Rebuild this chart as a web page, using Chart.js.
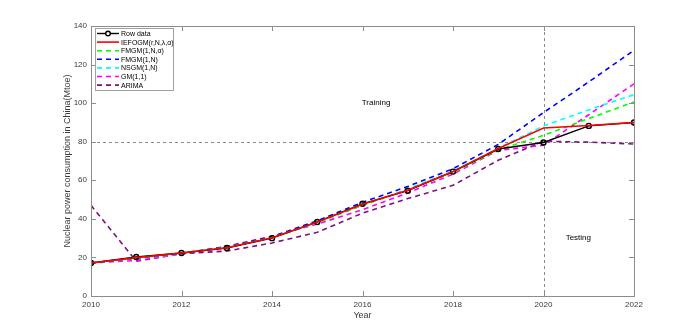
<!DOCTYPE html>
<html>
<head>
<meta charset="utf-8">
<script src="https://cdn.jsdelivr.net/npm/chart.js@4"></script>
<style>
    body { margin: 0; background: #fff; }
    #wrap { width: 700px; height: 332px; }
</style>
</head>
<body>
<div id="wrap"><canvas id="forecastChart" width="700" height="332"></canvas></div>
<script>
// Data
const years = [2010, 2011, 2012, 2013, 2014, 2015, 2016, 2017, 2018, 2019, 2020, 2021, 2022];
const rowData = [17.1, 20.2, 22.3, 24.9, 30.0, 38.4, 47.8, 54.6, 64.5, 76.2, 79.6, 88.2, 90.0];
const iefogm  = [17.1, 19.9, 22.3, 25.0, 30.2, 38.4, 47.6, 54.8, 64.5, 76.5, 87.1, 88.4, 90.0];
const fmgmA   = [17.1, 19.8, 22.3, 25.2, 30.3, 38.0, 47.0, 55.0, 64.0, 75.8, 83.3, 92.0, 100.6];
const fmgm    = [17.1, 19.6, 22.2, 25.5, 30.8, 39.0, 48.6, 56.8, 66.0, 78.6, 95.1, 111.0, 127.4];
const nsgm    = [17.1, 19.4, 22.0, 25.3, 30.5, 38.2, 47.0, 55.5, 64.8, 76.6, 88.2, 96.5, 104.4];
const gm11    = [17.1, 18.4, 21.8, 25.8, 31.0, 37.3, 44.8, 53.4, 63.2, 75.5, 78.2, 94.0, 110.0];
const arima   = [47.0, 18.0, 22.0, 23.3, 27.5, 33.0, 43.0, 50.5, 57.4, 70.4, 80.2, 79.8, 78.8];

const xTicks = [2010, 2012, 2014, 2016, 2018, 2020, 2022];
const yTicks = [0, 20, 40, 60, 80, 100, 120, 140];
const splitYear = 2020;
const refLevel = 80;

const FONT = 'Liberation Sans, Arial, sans-serif';
const AXIS_COLOR = '#8c8c8c';
const TEXT_COLOR = '#3a3a3a';

function toPoints(values) {
    return values.map((v, i) => ({ x: years[i], y: v }));
}

function dashed(label, values, color) {
    return {
        label: label,
        data: toPoints(values),
        borderColor: color,
        borderWidth: 1.6,
        borderDash: [5, 4],
        pointRadius: 0,
        tension: 0,
        order: 3
    };
}

// Frame, inward ticks, reference lines, annotations and legend
const decorations = {
    id: 'decorations',
    beforeDatasetsDraw(chart) {
        const { ctx, chartArea: a, scales: { x, y } } = chart;
        ctx.save();
        ctx.strokeStyle = '#8a8a8a';
        ctx.lineWidth = 1;
        ctx.setLineDash([3, 3]);
        const yr = Math.round(y.getPixelForValue(refLevel)) + 0.5;
        ctx.beginPath();
        ctx.moveTo(a.left, yr);
        ctx.lineTo(a.right, yr);
        ctx.stroke();
        const xs = Math.round(x.getPixelForValue(splitYear)) + 0.5;
        ctx.beginPath();
        ctx.moveTo(xs, a.top);
        ctx.lineTo(xs, a.bottom);
        ctx.stroke();
        ctx.restore();
    },
    afterDatasetsDraw(chart) {
        const { ctx, chartArea: a, scales: { x, y } } = chart;
        ctx.save();
        // frame
        ctx.strokeStyle = AXIS_COLOR;
        ctx.lineWidth = 1;
        ctx.strokeRect(Math.round(a.left) + 0.5, Math.round(a.top) + 0.5,
            Math.round(a.right - a.left), Math.round(a.bottom - a.top));
        // inward ticks on all four sides
        const tl = 5;
        ctx.beginPath();
        xTicks.forEach(t => {
            const px = Math.round(x.getPixelForValue(t)) + 0.5;
            ctx.moveTo(px, a.bottom); ctx.lineTo(px, a.bottom - tl);
            ctx.moveTo(px, a.top); ctx.lineTo(px, a.top + tl);
        });
        yTicks.forEach(t => {
            const py = Math.round(y.getPixelForValue(t)) + 0.5;
            ctx.moveTo(a.left, py); ctx.lineTo(a.left + tl, py);
            ctx.moveTo(a.right, py); ctx.lineTo(a.right - tl, py);
        });
        ctx.stroke();

        // annotations
        ctx.fillStyle = '#000';
        ctx.font = '8px ' + FONT;
        ctx.textAlign = 'center';
        ctx.textBaseline = 'middle';
        ctx.fillText('Training', x.getPixelForValue(2016.3), y.getPixelForValue(100));
        ctx.fillText('Testing', x.getPixelForValue(2020.77), y.getPixelForValue(30));

        // legend box
        const lx = 95, ly = 28, lw = 78, lh = 62;
        ctx.fillStyle = '#fff';
        ctx.fillRect(lx, ly, lw, lh);
        ctx.strokeStyle = '#a0a0a0';
        ctx.strokeRect(lx + 0.5, ly + 0.5, lw, lh);
        ctx.font = '7px ' + FONT;
        ctx.textAlign = 'left';
        chart.data.datasets.forEach((ds, i) => {
            const cy = ly + 5.5 + i * 8.6;
            ctx.strokeStyle = ds.borderColor;
            ctx.lineWidth = ds.borderWidth;
            ctx.setLineDash(ds.borderDash || []);
            ctx.beginPath();
            ctx.moveTo(lx + 2, cy);
            ctx.lineTo(lx + 24, cy);
            ctx.stroke();
            ctx.setLineDash([]);
            if (ds.pointRadius > 0) {
                ctx.beginPath();
                ctx.arc(lx + 13, cy, 2.3, 0, Math.PI * 2);
                ctx.fillStyle = '#fff';
                ctx.fill();
                ctx.strokeStyle = '#000';
                ctx.lineWidth = 1.4;
                ctx.stroke();
            }
            ctx.fillStyle = '#000';
            ctx.fillText(ds.label, lx + 26, cy + 0.5);
        });
        ctx.restore();
    }
};

document.addEventListener('DOMContentLoaded', function() {
    const ctx = document.getElementById('forecastChart').getContext('2d');

    new Chart(ctx, {
        type: 'line',
        data: {
            datasets: [
                {
                    label: 'Row data',
                    data: toPoints(rowData),
                    borderColor: '#000000',
                    borderWidth: 1.4,
                    pointRadius: 2.5,
                    pointBorderWidth: 1.4,
                    pointBorderColor: '#000000',
                    pointBackgroundColor: 'rgba(255,255,255,0)',
                    tension: 0,
                    order: 1
                },
                {
                    label: 'IEFOGM(r,N,\u03bb,\u03b1)',
                    data: toPoints(iefogm),
                    borderColor: '#ff0000',
                    borderWidth: 1.6,
                    pointRadius: 0,
                    tension: 0,
                    order: 0
                },
                dashed('FMGM(1,N,\u03b1)', fmgmA, '#00ff00'),
                dashed('FMGM(1,N)', fmgm, '#0000ff'),
                dashed('NSGM(1,N)', nsgm, '#00ffff'),
                dashed('GM(1,1)', gm11, '#ff00ff'),
                dashed('ARIMA', arima, '#7e0f7e')
            ]
        },
        options: {
            responsive: false,
            animation: false,
            layout: { padding: { top: 26, right: 66, left: 0, bottom: 0 } },
            plugins: {
                legend: { display: false },
                tooltip: { enabled: false }
            },
            scales: {
                x: {
                    type: 'linear',
                    min: 2010,
                    max: 2022,
                    afterBuildTicks: s => { s.ticks = xTicks.map(v => ({ value: v })); },
                    afterFit: s => { s.height = 36; },
                    grid: { display: false, drawTicks: false },
                    border: { display: false },
                    ticks: {
                        padding: 4,
                        color: TEXT_COLOR,
                        font: { family: FONT, size: 8 },
                        maxRotation: 0,
                        callback: v => String(v)
                    },
                    title: {
                        display: true,
                        text: 'Year',
                        color: TEXT_COLOR,
                        font: { family: FONT, size: 9 },
                        padding: { top: 0, bottom: 11 }
                    }
                },
                y: {
                    min: 0,
                    max: 140,
                    afterBuildTicks: s => { s.ticks = yTicks.map(v => ({ value: v })); },
                    afterFit: s => { s.width = 91; },
                    grid: { display: false, drawTicks: false },
                    border: { display: false },
                    ticks: {
                        padding: 4,
                        color: TEXT_COLOR,
                        font: { family: FONT, size: 8 }
                    },
                    title: {
                        display: true,
                        text: 'Nuclear power consumption in China(Mtoe)',
                        color: TEXT_COLOR,
                        font: { family: FONT, size: 9 },
                        padding: { top: 62, bottom: 0 }
                    }
                }
            }
        },
        plugins: [decorations]
    });
});
</script>
</body>
</html>
